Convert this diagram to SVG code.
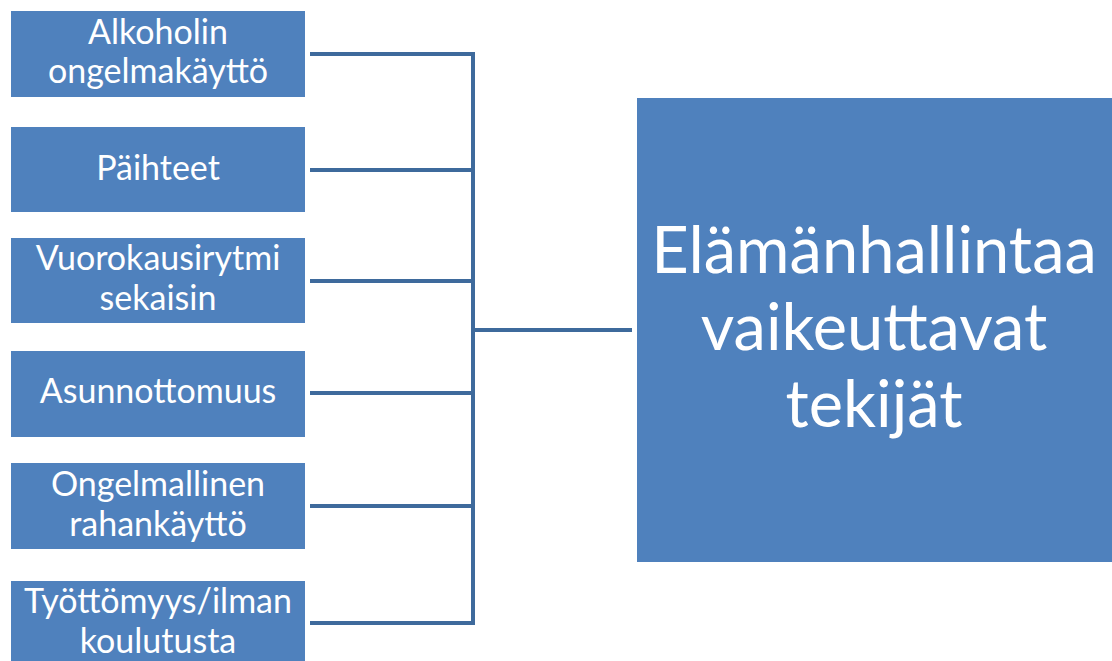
<svg xmlns="http://www.w3.org/2000/svg" width="1112" height="661" viewBox="0 0 1112 661">
  <style>
    .box { fill: #4F81BD; }
    .lbl { fill: #FFFFFF; font-family: Lato, "Open Sans", sans-serif; font-size: 34px; text-anchor: middle; }
    .big { fill: #FFFFFF; font-family: Lato, "Open Sans", sans-serif; font-size: 65px; text-anchor: middle; }
    .wire { stroke: #3E6A9C; stroke-width: 4; fill: none; }
  </style>
  <rect width="1112" height="661" fill="#FFFFFF"/>

  <!-- bracket joining the factors to the main box -->
  <g id="connectors">
    <path class="wire" d="M310 54 H473 M310 170 H473 M310 281 H473 M310 393 H473 M310 506 H473 M310 623 H473"/>
    <path class="wire" d="M473 52 V625"/>
    <path class="wire" d="M473 330 H632"/>
  </g>

  <g id="n1">
    <rect class="box" x="11" y="11" width="294" height="86"/>
    <text class="lbl" x="158" y="44">Alkoholin</text>
    <text class="lbl" x="158" y="83">ongelmakäyttö</text>
  </g>
  <g id="n2">
    <rect class="box" x="11" y="127" width="294" height="85"/>
    <text class="lbl" x="158" y="180">Päihteet</text>
  </g>
  <g id="n3">
    <rect class="box" x="11" y="238" width="294" height="85"/>
    <text class="lbl" x="158" y="270">Vuorokausirytmi</text>
    <text class="lbl" x="158" y="310">sekaisin</text>
  </g>
  <g id="n4">
    <rect class="box" x="11" y="351" width="294" height="86"/>
    <text class="lbl" x="158" y="403">Asunnottomuus</text>
  </g>
  <g id="n5">
    <rect class="box" x="11" y="463" width="294" height="86"/>
    <text class="lbl" x="158" y="496">Ongelmallinen</text>
    <text class="lbl" x="158" y="536">rahankäyttö</text>
  </g>
  <g id="n6">
    <rect class="box" x="11" y="581" width="294" height="86"/>
    <text class="lbl" x="158" y="613">Työttömyys/ilman</text>
    <text class="lbl" x="158" y="653">koulutusta</text>
  </g>
  <g id="main">
    <rect class="box" x="637" y="98" width="475" height="464"/>
    <text class="big" x="874" y="273">Elämänhallintaa</text>
    <text class="big" x="874" y="350">vaikeuttavat</text>
    <text class="big" x="874" y="427">tekijät</text>
  </g>
</svg>
